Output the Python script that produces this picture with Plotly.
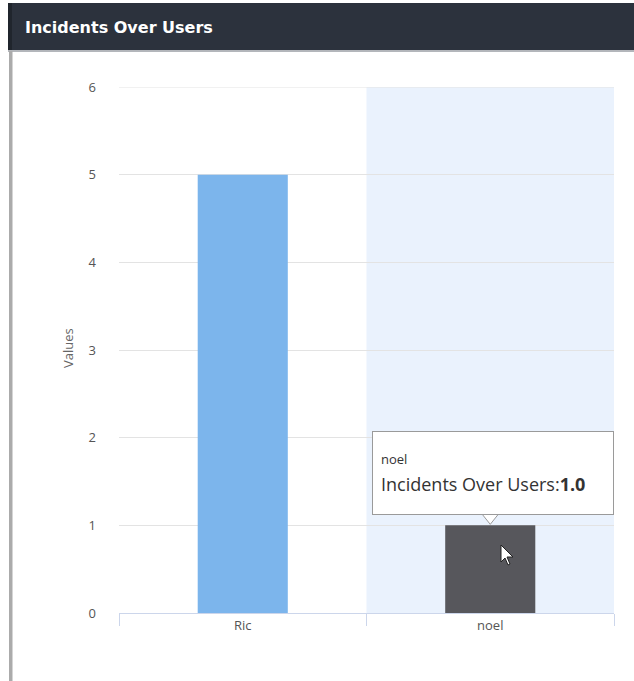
import plotly.graph_objects as go

categories = ["Ric", "noel"]
values = [5, 1]
bar_colors = ["#7cb5ec", "#57575c"]
y_ticks = [0, 1, 2, 3, 4, 5, 6]
title_text = "Incidents Over Users"
y_title = "Values"
hover_cat = "noel"
hover_value = 1.0

W, H = 634, 681
L, R, T, B = 119, 614, 87, 613


def px(xp):
    return (xp - L) / (R - L)


def py(yp):
    return (B - yp) / (B - T)


fig = go.Figure()
fig.add_trace(go.Bar(
    x=categories, y=values,
    marker=dict(color=bar_colors, line=dict(width=0)),
    hoverinfo="skip",
))

shapes = [
    # hover highlight band
    dict(type="rect", xref="x", yref="paper", x0=0.5, x1=1.5, y0=0, y1=1,
         fillcolor="#eaf2fd", line=dict(width=0), layer="below"),
    # top gridline
    dict(type="line", xref="paper", yref="y", x0=0, x1=1, y0=y_ticks[-1], y1=y_ticks[-1],
         line=dict(color="#e3e3e3", width=1), layer="below"),
    # header bar
    dict(type="rect", xref="paper", yref="paper", x0=px(8), x1=px(640),
         y0=py(50), y1=py(3), fillcolor="#2c323d", line=dict(width=0), layer="above"),
    dict(type="rect", xref="paper", yref="paper", x0=px(8), x1=px(12),
         y0=py(50), y1=py(3), fillcolor="#20252d", line=dict(width=0), layer="above"),
    dict(type="line", xref="paper", yref="paper", x0=px(8), x1=px(640),
         y0=py(51), y1=py(51), line=dict(color="#9a9ea4", width=1.5), layer="above"),
    # left border
    dict(type="rect", xref="paper", yref="paper", x0=px(9), x1=px(12.5),
         y0=py(690), y1=py(51), fillcolor="#ababab", line=dict(width=0), layer="above"),
    # tooltip caret
    dict(type="path", xref="x", yref="y", xsizemode="pixel", ysizemode="pixel",
         xanchor=1, yanchor=hover_value,
         path="M -8,11 L 0,1 L 8,11 Z",
         fillcolor="white", line=dict(color="#9a9a9a", width=1), layer="above"),
    # mouse cursor
    dict(type="path", xref="paper", yref="paper", xsizemode="pixel", ysizemode="pixel",
         xanchor=px(501), yanchor=py(545),
         path="M 0,0 L 0,-17 L 4,-13 L 7,-20 L 9,-19 L 6,-12 L 12,-12 Z",
         fillcolor="white", line=dict(color="#222222", width=1), layer="above"),
]

annotations = [
    dict(text="<b>" + title_text + "</b>", xref="paper", yref="paper",
         x=px(23), y=py(28), xanchor="left", yanchor="middle", showarrow=False,
         font=dict(family="DejaVu Sans, sans-serif", size=16, color="white")),
    dict(text=y_title, xref="paper", yref="paper", x=px(68), y=py(348),
         xanchor="center", yanchor="middle", textangle=-90, showarrow=False,
         font=dict(family="Open Sans, sans-serif", size=13, color="#666666")),
    dict(text=("<span style='font-size:13px'>" + hover_cat + "</span><br>"
               "<span style='font-size:18px'>Incidents Over Users:<b>"
               + f"{hover_value:.1f}" + "</b></span>"),
         xref="x", yref="y", x=hover_cat, y=hover_value, xshift=3, yshift=10,
         xanchor="center", yanchor="bottom", showarrow=False, align="left",
         width=224, height=66, valign="middle", borderpad=8,
         bgcolor="white", bordercolor="#9a9a9a", borderwidth=1,
         font=dict(family="Open Sans, sans-serif", size=21, color="#333333")),
]

fig.update_layout(
    width=W, height=H,
    margin=dict(l=L, r=W - R, t=T, b=H - B),
    paper_bgcolor="white", plot_bgcolor="rgba(0,0,0,0)",
    showlegend=False,
    bargap=0.636,
    shapes=shapes,
    annotations=annotations,
    font=dict(family="Open Sans, sans-serif", color="#666666"),
    xaxis=dict(
        type="category", range=[-0.5, 1.5], showgrid=False,
        showline=True, linecolor="#ccd6eb", linewidth=1,
        ticks="outside", tickson="boundaries", ticklen=12, tickcolor="#ccd6eb",
        tickfont=dict(size=13, color="#555555"), zeroline=False,
    ),
    yaxis=dict(
        range=[0, 6], tickvals=y_ticks, showgrid=True, gridcolor="#e3e3e3",
        gridwidth=1, zeroline=False, showline=False, ticks="",
        ticklabelstandoff=22,
        tickfont=dict(size=13, color="#555555"),
    ),
)

fig.write_html("out.html", config={"displayModeBar": False},
               post_script="document.body.style.margin='0px';")
